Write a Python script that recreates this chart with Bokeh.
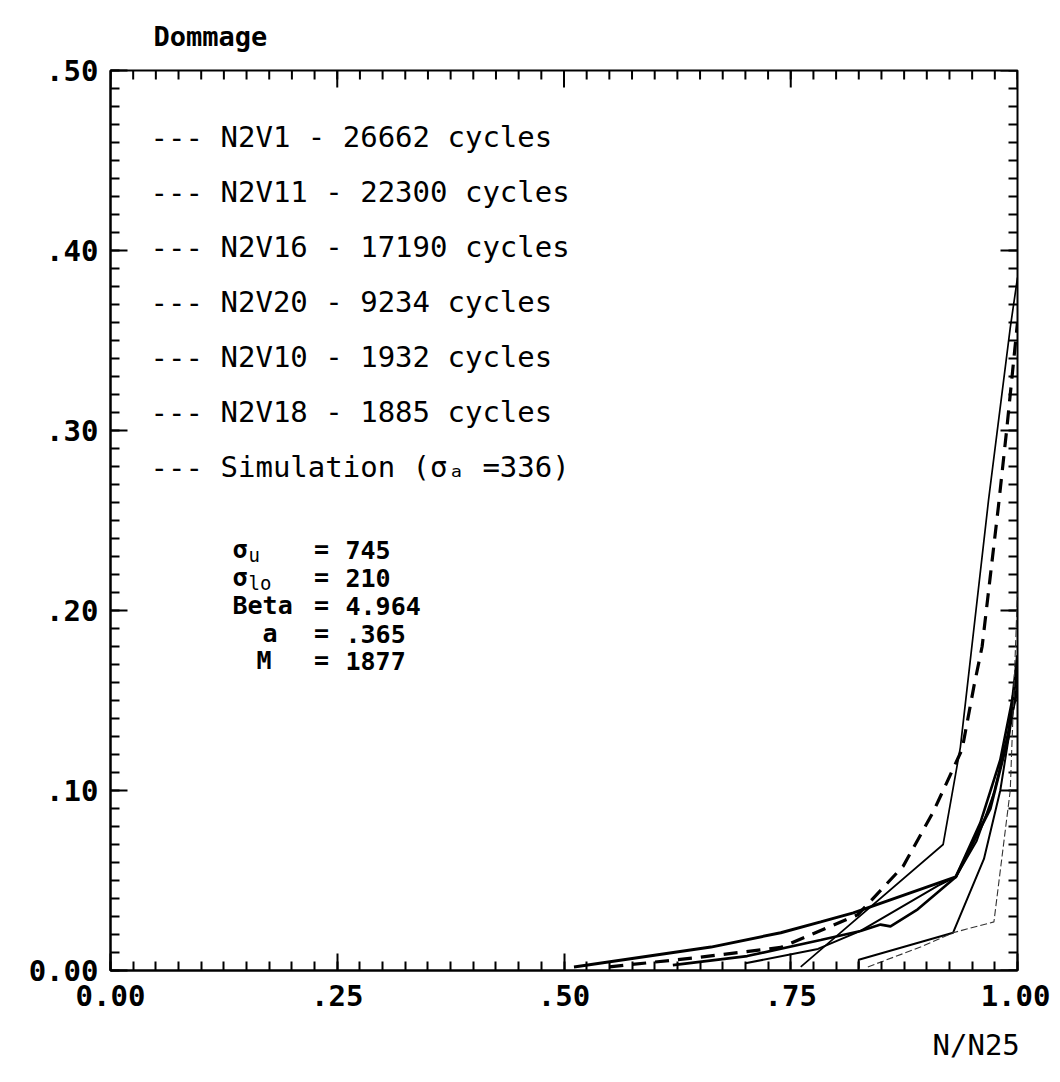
import math
from bokeh.plotting import figure
from bokeh.models import Range1d, LinearAxis, FixedTicker, Label, ColumnDataSource, Title
from bokeh.embed import file_html
from bokeh.resources import INLINE

# ---------------- data ----------------
series_names = ["N2V1", "N2V11", "N2V16", "N2V20", "N2V10", "N2V18"]
series_cycles = [26662, 22300, 17190, 9234, 1932, 1885]

n2v1_x = [0.511, 0.662, 0.739, 0.783, 0.819, 0.932, 0.970, 0.990, 1.0]
n2v1_y = [0.002, 0.013, 0.021, 0.027, 0.032, 0.052, 0.090, 0.130, 0.175]
n2v11_x = [0.620, 0.702, 0.783, 0.827, 0.849, 0.860, 0.890, 0.932, 0.959, 0.981, 1.0]
n2v11_y = [0.003, 0.008, 0.017, 0.022, 0.0255, 0.0245, 0.034, 0.052, 0.082, 0.117, 0.165]
n2v16_x = [0.700, 0.780, 0.827, 0.912, 0.932, 0.955, 0.975, 0.993, 1.0]
n2v16_y = [0.004, 0.012, 0.022, 0.047, 0.052, 0.072, 0.100, 0.140, 0.155]
n2v20_x = [0.761, 0.918, 0.937, 0.968, 0.992, 1.0]
n2v20_y = [0.002, 0.070, 0.124, 0.261, 0.357, 0.385]
n2v10_x = [0.825, 0.825, 0.929, 0.963, 0.981, 1.0]
n2v10_y = [0.001, 0.006, 0.021, 0.062, 0.100, 0.160]
n2v18_x = [0.835, 0.893, 0.929, 0.974, 0.992, 1.0]
n2v18_y = [0.002, 0.013, 0.021, 0.027, 0.100, 0.210]

sim_x = [0.550, 0.643, 0.739, 0.824, 0.874, 0.907, 0.939, 0.952, 0.961, 0.970, 0.979, 0.988, 0.996, 1.0]
sim_y = [0.002, 0.007, 0.0128, 0.031, 0.058, 0.088, 0.123, 0.158, 0.180, 0.219, 0.258, 0.300, 0.340, 0.360]
sim_sigma_a = 336

param_names = ["σ", "σ", "Beta", "a", "M"]
param_subs = ["u", "lo", "", "", ""]
param_values = ["745", "210", "4.964", ".365", "1877"]

x_tick_values = [0.0, 0.25, 0.5, 0.75, 1.0]
x_tick_labels = ["0.00", ".25", ".50", ".75", "1.00"]
y_tick_values = [0.0, 0.1, 0.2, 0.3, 0.4, 0.5]
y_tick_labels = ["0.00", ".10", ".20", ".30", ".40", ".50"]
x_minor = [i * 0.025 for i in range(41)]
y_minor = [i * 0.01 for i in range(51)]

# ---------------- figure ----------------
FONT = "DejaVu Sans Mono"
FL, FT, FW, FH = 110, 70, 907, 901          # frame left/top/width/height (px)
W, H = 1050, 1078
p = figure(width=W, height=H, x_range=Range1d(0, 1), y_range=Range1d(0, 0.5),
           x_axis_type=None, y_axis_type=None, output_backend="svg",
           toolbar_location=None, min_border_left=FL, min_border_right=W - FL - FW,
           min_border_top=FT, min_border_bottom=H - FT - FH)
p.xgrid.visible = False
p.ygrid.visible = False
p.outline_line_color = "black"
p.outline_line_width = 2
p.background_fill_color = "white"
p.border_fill_color = "white"


def make_axis(vals, labs, minor, standoff):
    ax = LinearAxis(ticker=FixedTicker(ticks=vals, minor_ticks=minor))
    ax.major_label_overrides = {v: l for v, l in zip(vals, labs)}
    ax.axis_line_color = "black"
    ax.axis_line_width = 2
    ax.major_tick_in = 17
    ax.major_tick_out = 0
    ax.minor_tick_in = 9
    ax.minor_tick_out = 0
    ax.major_tick_line_width = 2
    ax.minor_tick_line_width = 2
    ax.major_tick_line_color = "black"
    ax.minor_tick_line_color = "black"
    ax.major_label_text_font = FONT
    ax.major_label_text_font_style = "bold"
    ax.major_label_text_font_size = "29px"
    ax.major_label_text_color = "black"
    ax.major_label_standoff = standoff
    return ax


p.add_layout(make_axis(x_tick_values, x_tick_labels, x_minor, 14), "below")
p.add_layout(make_axis(y_tick_values, y_tick_labels, y_minor, 12), "left")

# inward ticks on the top and right frame edges
p.ray(x=x_tick_values, y=[0.5] * len(x_tick_values), length=17, angle=-math.pi / 2,
      length_units="screen", line_width=2, line_color="black")
p.ray(x=x_minor, y=[0.5] * len(x_minor), length=9, angle=-math.pi / 2,
      length_units="screen", line_width=2, line_color="black")
p.ray(x=[1.0] * len(y_tick_values), y=y_tick_values, length=17, angle=math.pi,
      length_units="screen", line_width=2, line_color="black")
p.ray(x=[1.0] * len(y_minor), y=y_minor, length=9, angle=math.pi,
      length_units="screen", line_width=2, line_color="black")

# axis titles
t_top = Title(text="Dommage", align="left", offset=43, standoff=34,
              vertical_align="top",
              text_font=FONT, text_font_style="bold", text_font_size="27px",
              text_color="black")
p.add_layout(t_top, "above")
t_bot = Title(text="N/N25", align="left", offset=822, standoff=34,
              text_font=FONT, text_font_style="normal", text_font_size="29px",
              text_color="black")
p.add_layout(t_bot, "below")

# ---------------- curves ----------------
curves = [
    (n2v1_x, n2v1_y, 3.0, "solid", "black"),
    (n2v11_x, n2v11_y, 2.6, "solid", "black"),
    (n2v16_x, n2v16_y, 2.0, "solid", "black"),
    (n2v20_x, n2v20_y, 1.7, "solid", "black"),
    (n2v10_x, n2v10_y, 2.0, "solid", "black"),
    (n2v18_x, n2v18_y, 1.1, "7 3", "#333333"),
]
for (cx, cy, lw, dash, col), name in zip(curves, series_names):
    p.line(x="x", y="y", source=ColumnDataSource(dict(x=cx, y=cy)),
           line_width=lw, line_dash=dash, line_color=col)
p.line(x="x", y="y", source=ColumnDataSource(dict(x=sim_x, y=sim_y)),
       line_width=3.2, line_dash="14 9", line_color="black")


# ---------------- texts (positions in page pixels -> frame coords) ----------------
def at(px, py):
    return (px - FL) / FW, (FT + FH - py) / (FH / 0.5)


def add_text(txt, px, py, size, style="normal", align="left"):
    x, y = at(px, py)
    p.add_layout(Label(x=x, y=y, text=txt, text_font=FONT, text_font_size=size,
                       text_font_style=style, text_align=align,
                       text_baseline="middle", text_color="black"))


legend_rows = [137, 192, 247, 302, 357, 412, 467]
entries = [f"{n} - {c} cycles" for n, c in zip(series_names, series_cycles)]
entries.append(f"Simulation (σₐ ={sim_sigma_a})")
for txt, py in zip(entries, legend_rows):
    add_text("---", 150, py, "29px")
    add_text(txt, 220, py, "29px")

param_rows = [550, 578, 606, 634, 661]
param_x = [232, 232, 232, 262, 256]
for name, sub, val, py, px in zip(param_names, param_subs, param_values, param_rows, param_x):
    add_text(name, px, py, "25px", "bold")
    if sub:
        add_text(sub, px + 16, py + 5, "19px", "normal")
    add_text("=", 321, py, "25px", "bold", "center")
    add_text(val, 345, py, "25px", "bold")

open("out.html", "w").write(file_html(p, INLINE))
